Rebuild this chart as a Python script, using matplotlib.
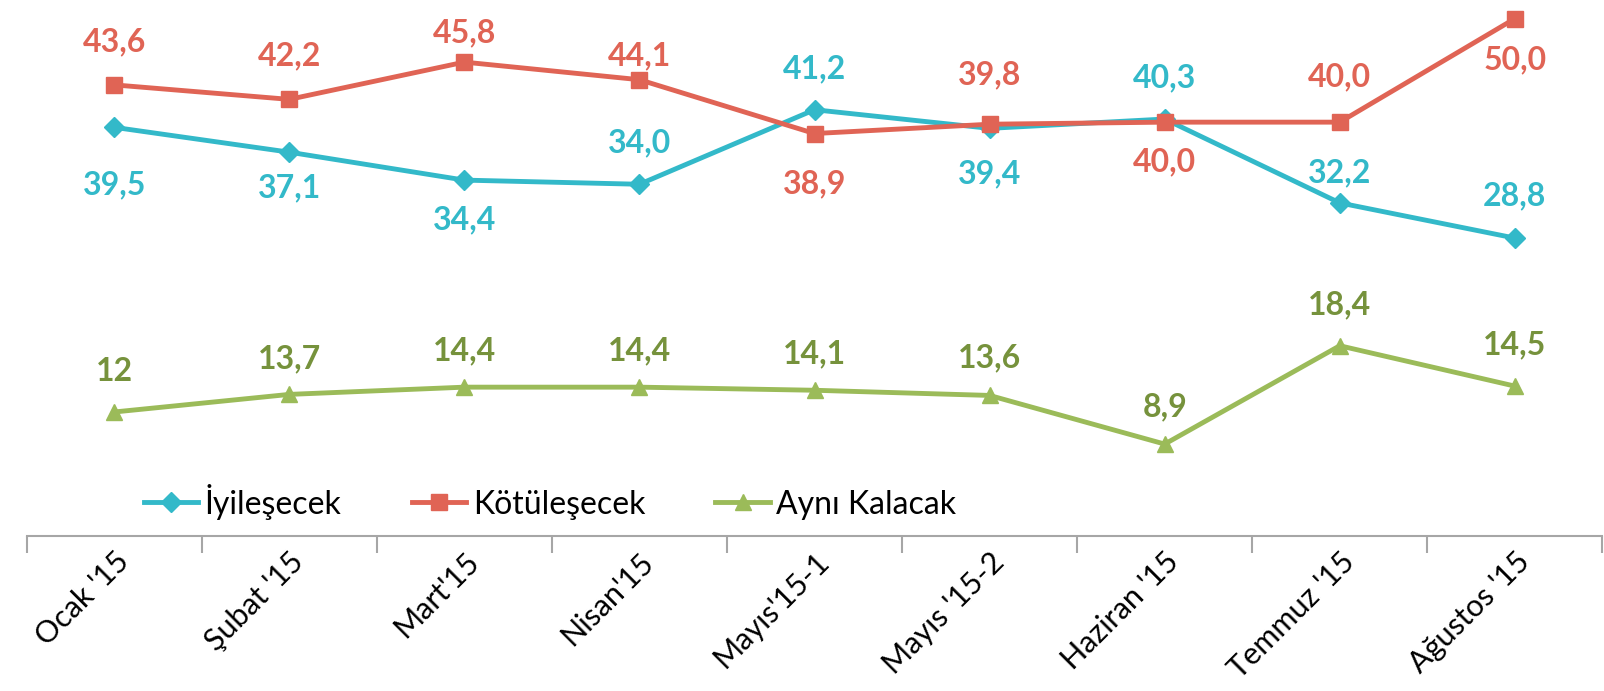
import matplotlib
matplotlib.use("Agg")
import matplotlib.pyplot as plt

plt.rcParams['font.family'] = ['Lato', 'DejaVu Sans']

months = ["Ocak '15", "Şubat '15", "Mart'15", "Nisan'15", "Mayıs'15-1",
          "Mayıs '15-2", "Haziran '15", "Temmuz '15", "Ağustos '15"]
iyilesecek = [39.5, 37.1, 34.4, 34.0, 41.2, 39.4, 40.3, 32.2, 28.8]
kotulesecek = [43.6, 42.2, 45.8, 44.1, 38.9, 39.8, 40.0, 40.0, 50.0]
ayni_kalacak = [12, 13.7, 14.4, 14.4, 14.1, 13.6, 8.9, 18.4, 14.5]
ayni_labels = ["12", "13,7", "14,4", "14,4", "14,1", "13,6", "8,9", "18,4", "14,5"]

# label offsets in pixels (positive = up)
off_iyi = [-57, -36, -40, 41, 41, -45, 41, 30, 42]
off_kot = [43, 44, 29, 24, -50, 49, -40, 45, -41]
off_ayni = [40, 36, 36, 36, 36, 38, 37, 41, 41]

cyan = '#33B9C9'
red = '#E06455'
green = '#9BBB59'
green_txt = '#76923C'

fig = plt.figure(figsize=(16.04, 6.91), dpi=100)
ax = fig.add_axes([0.0166, 0.224, 0.9824, 0.776])
x = list(range(len(months)))

ax.plot(x, iyilesecek, color=cyan, lw=3.5, marker='D', ms=10, label='İyileşecek')
ax.plot(x, kotulesecek, color=red, lw=3.5, marker='s', ms=12, label='Kötüleşecek')
ax.plot(x, ayni_kalacak, color=green, lw=3.5, marker='^', ms=12, label='Aynı Kalacak')

def fmt(v):
    return f"{v:.1f}".replace('.', ',')

lab = dict(textcoords='offset pixels', ha='center', va='center',
           fontsize=23, fontweight='bold')
for i in x:
    ax.annotate(fmt(iyilesecek[i]), (i, iyilesecek[i]), xytext=(0, off_iyi[i]),
                color=cyan, **lab)
    ax.annotate(fmt(kotulesecek[i]), (i, kotulesecek[i]), xytext=(0, off_kot[i]),
                color=red, **lab)
    ax.annotate(ayni_labels[i], (i, ayni_kalacak[i]), xytext=(0, off_ayni[i]),
                color=green_txt, **lab)

ax.set_xlim(-0.5, len(months) - 0.5)
ax.set_ylim(0, 51.8)
ax.set_yticks([])
for s in ['top', 'right', 'left']:
    ax.spines[s].set_visible(False)
ax.spines['bottom'].set_color('#A6A6A6')
ax.spines['bottom'].set_linewidth(1.5)

ax.set_xticks(x)
ax.set_xticklabels(months, rotation=45, ha='right', rotation_mode='anchor', fontsize=22)
ax.tick_params(axis='x', which='major', length=0, pad=8)
ax.set_xticks([i - 0.5 for i in range(len(months) + 1)], minor=True)
ax.tick_params(axis='x', which='minor', length=12, width=1.5, color='#A6A6A6')

fig.legend(loc='center', bbox_to_anchor=(0.343, 0.274), ncol=3, frameon=False,
           fontsize=23, handlelength=1.7, handletextpad=0.2, columnspacing=2.2)

fig.savefig('out.png', dpi=100)
